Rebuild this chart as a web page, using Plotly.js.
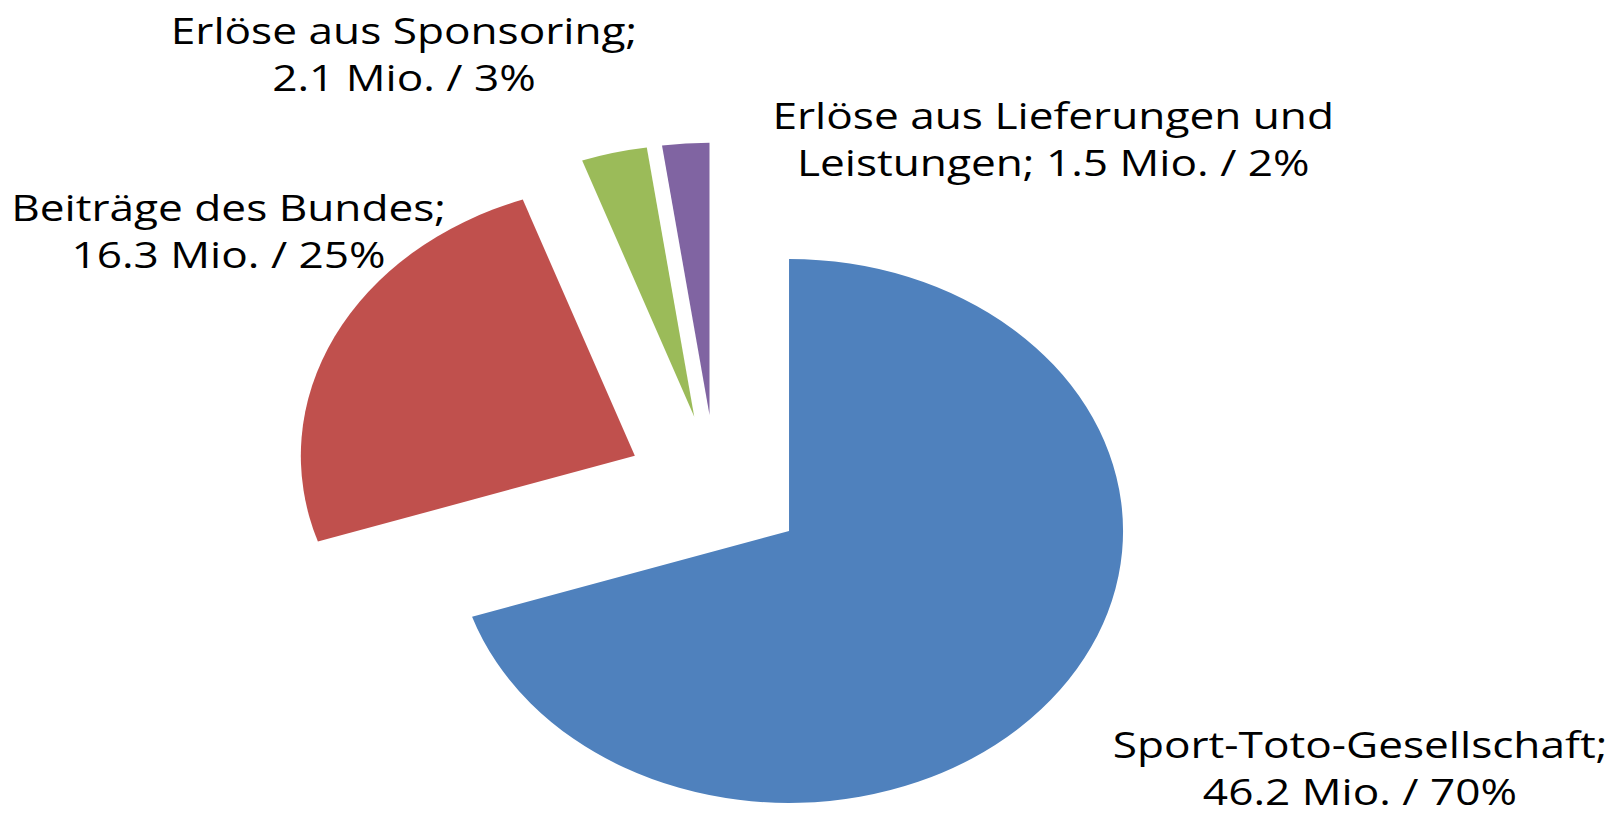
<!DOCTYPE html>
<html>
<head>
<meta charset="utf-8">
<script src="https://cdn.plot.ly/plotly-3.0.1.min.js"></script>
<style>
  html, body { margin: 0; padding: 0; overflow: hidden; background: #fff; width: 1617px; height: 816px; }
  #chart { position: absolute; left: 0; top: 0; transform-origin: 0 0; }
</style>
</head>
<body>
<div id="chart"></div>
<script>
// ---- data ----
const categories = ["Sport-Toto-Gesellschaft", "Beiträge des Bundes", "Erlöse aus Sponsoring", "Erlöse aus Lieferungen und Leistungen"];
const valuesMio = [46.2, 16.3, 2.1, 1.5];
const labelLine1 = ["Sport-Toto-Gesellschaft;", "Beiträge des Bundes;", "Erlöse aus Sponsoring;", "Erlöse aus Lieferungen und"];
const labelLine2Prefix = ["", "", "", "Leistungen; "];
const colors = ["#4F81BD", "#C0504D", "#9BBB59", "#8064A2"];

// ---- layout (page pixels) ----
const stretchX = 1.228;             // the original picture is stretched horizontally
const W = 1317, H = 900;            // unstretched plot size
const pieCenterPage = [715.9, 488]; // page px
const pieRadius = 272;              // unstretched px
const pull = 0.27;
const labelPosPage = [[1360, 768], [229, 231], [404, 54], [1053, 139]];

const total = valuesMio.reduce((a, b) => a + b, 0);
const texts = valuesMio.map((v, i) =>
  labelLine1[i] + "<br>" + labelLine2Prefix[i] + v.toFixed(1) + " Mio. / " + Math.round(v / total * 100) + "%");

const cx = pieCenterPage[0] / stretchX;
const half = pieRadius * (1 + pull);
const xd = [(cx - half) / W, (cx + half) / W];
const yc = 1 - pieCenterPage[1] / H;
const yd = [0, 2 * yc];

const trace = {
  type: "pie",
  labels: categories,
  values: valuesMio,
  sort: false,
  direction: "clockwise",
  rotation: 0,
  pull: pull,
  textinfo: "none",
  hoverinfo: "label+value+percent",
  marker: { colors: colors, line: { width: 0 } },
  domain: { x: xd, y: yd },
  showlegend: false
};

const annotations = texts.map((t, i) => ({
  text: t,
  xref: "paper", yref: "paper",
  x: labelPosPage[i][0] / stretchX / W,
  y: 1 - labelPosPage[i][1] / H,
  xanchor: "center", yanchor: "middle", align: "center",
  showarrow: false,
  font: { family: "Open Sans", size: 36, color: "#000" }
}));

const layout = {
  width: W, height: H,
  margin: { l: 0, r: 0, t: 0, b: 0 },
  paper_bgcolor: "rgba(0,0,0,0)",
  plot_bgcolor: "rgba(0,0,0,0)",
  showlegend: false,
  annotations: annotations
};

document.getElementById("chart").style.transform = "scaleX(" + stretchX + ")";
Plotly.newPlot("chart", [trace], layout, { displayModeBar: false, staticPlot: true });
</script>
</body>
</html>
